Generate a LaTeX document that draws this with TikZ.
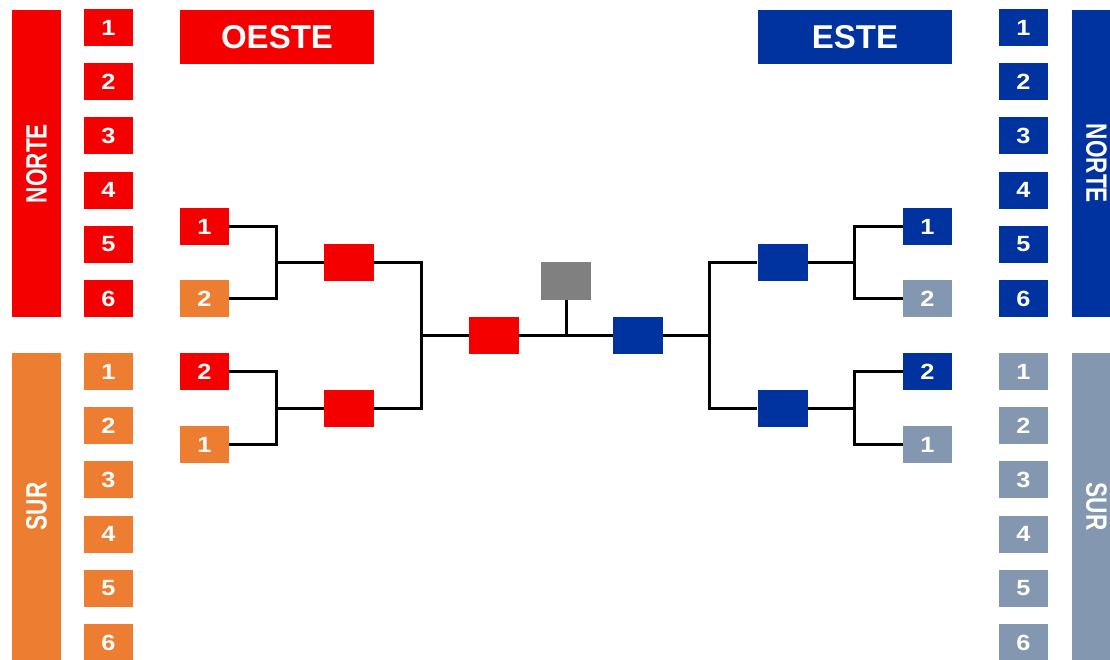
\documentclass[tikz,border=0pt]{standalone}
\usepackage{fontspec}
\setmainfont{Liberation Sans}
\definecolor{myred}{HTML}{F50000}
\definecolor{myorange}{HTML}{ED7D31}
\definecolor{myblue}{HTML}{0033A0}
\definecolor{mygrayblue}{HTML}{8497B0}
\definecolor{mygray}{HTML}{808080}
\newcommand{\dig}[1]{\scalebox{1.15}[1]{#1}}
\newcommand{\vlab}[1]{\scalebox{1}[1.3]{#1}}
\tikzset{
  numbox/.style={rectangle, inner sep=0pt, minimum width=49pt, minimum height=37pt, text=white,
    font=\fontsize{22}{22}\selectfont\bfseries},
  gamebox/.style={rectangle, inner sep=0pt, minimum width=50pt, minimum height=37pt},
  bar/.style={rectangle, inner sep=0pt, minimum width=307pt, minimum height=49pt, text=white,
    font=\fontsize{22.6}{22.6}\selectfont\bfseries},
  titlebox/.style={rectangle, inner sep=0pt, minimum width=194pt, minimum height=54pt, text=white,
    font=\fontsize{33}{33}\selectfont\bfseries},
  link/.style={draw=black, line width=3pt, line join=miter}
}
\begin{document}
\begin{tikzpicture}[x=1pt,y=-1pt]
\useasboundingbox (0,0) rectangle (1110,660);
\clip (0,0) rectangle (1110,660);
\fill[white] (0,0) rectangle (1110,660);
% side bars
\node[bar, fill=myred, rotate=90] (lnorte) at (36.5,163.5) {\vlab{NORTE}};
\node[bar, fill=myorange, rotate=90] (lsur) at (36.5,506.5) {\vlab{SUR}};
\node[bar, fill=myblue, rotate=-90] (rnorte) at (1096.5,163.5) {\vlab{NORTE}};
\node[bar, fill=mygrayblue, rotate=-90] (rsur) at (1096.5,506.5) {\vlab{SUR}};
% number columns
\foreach \i in {1,...,6} {
  \node[numbox, fill=myred] (ln\i) at (108.5,{27.5+54.2*(\i-1)}) {\dig{\i}};
  \node[numbox, fill=myorange] (ls\i) at (108.5,{371.5+54.2*(\i-1)}) {\dig{\i}};
  \node[numbox, fill=myblue] (rn\i) at (1023.5,{27.5+54.2*(\i-1)}) {\dig{\i}};
  \node[numbox, fill=mygrayblue] (rs\i) at (1023.5,{371.5+54.2*(\i-1)}) {\dig{\i}};
}
% titles
\node[titlebox, fill=myred] (oeste) at (277,37) {OESTE};
\node[titlebox, fill=myblue] (este) at (855,37) {ESTE};
% left bracket
\node[numbox, fill=myred] (L1) at (204.5,226.5) {\dig{1}};
\node[numbox, fill=myorange] (L2) at (204.5,298.5) {\dig{2}};
\node[numbox, fill=myred] (L3) at (204.5,371.5) {\dig{2}};
\node[numbox, fill=myorange] (L4) at (204.5,444.5) {\dig{1}};
\node[gamebox, fill=myred] (LQ1) at (349,262.5) {};
\node[gamebox, fill=myred] (LQ2) at (349,408) {};
\node[gamebox, fill=myred] (LS) at (494,335.5) {};
% final
\node[gamebox, fill=mygray, minimum height=38pt] (F) at (566,281) {};
\node[gamebox, fill=myblue] (RS) at (638,335.5) {};
% right bracket
\node[gamebox, fill=myblue] (RQ1) at (782.5,262.5) {};
\node[gamebox, fill=myblue] (RQ2) at (782.5,408) {};
\node[numbox, fill=myblue] (R1) at (927.5,226.5) {\dig{1}};
\node[numbox, fill=mygrayblue] (R2) at (927.5,298.5) {\dig{2}};
\node[numbox, fill=myblue] (R3) at (927.5,371.5) {\dig{2}};
\node[numbox, fill=mygrayblue] (R4) at (927.5,444.5) {\dig{1}};
% junctions
\coordinate (ja) at (276,262.5);
\coordinate (jb) at (276,408);
\coordinate (jc) at (421,335.5);
\coordinate (jd) at (709,335.5);
\coordinate (je) at (854,262.5);
\coordinate (jf) at (854,408);
\coordinate (jg) at (566,335.5);
% connectors
\draw[link] (L1.east) -| (ja) |- (L2.east);
\draw[link] (ja) -- (LQ1.west);
\draw[link] (L3.east) -| (jb) |- (L4.east);
\draw[link] (jb) -- (LQ2.west);
\draw[link] (LQ1.east) -| (jc) |- (LQ2.east);
\draw[link] (jc) -- (LS.west);
\draw[link] (LS.east) -- (RS.west);
\draw[link] (F.south) -- (jg);
\draw[link] (RQ1.west) -| (jd) |- (RQ2.west);
\draw[link] (jd) -- (RS.east);
\draw[link] (R1.west) -| (je) |- (R2.west);
\draw[link] (je) -- (RQ1.east);
\draw[link] (R3.west) -| (jf) |- (R4.west);
\draw[link] (jf) -- (RQ2.east);
\end{tikzpicture}
\end{document}
